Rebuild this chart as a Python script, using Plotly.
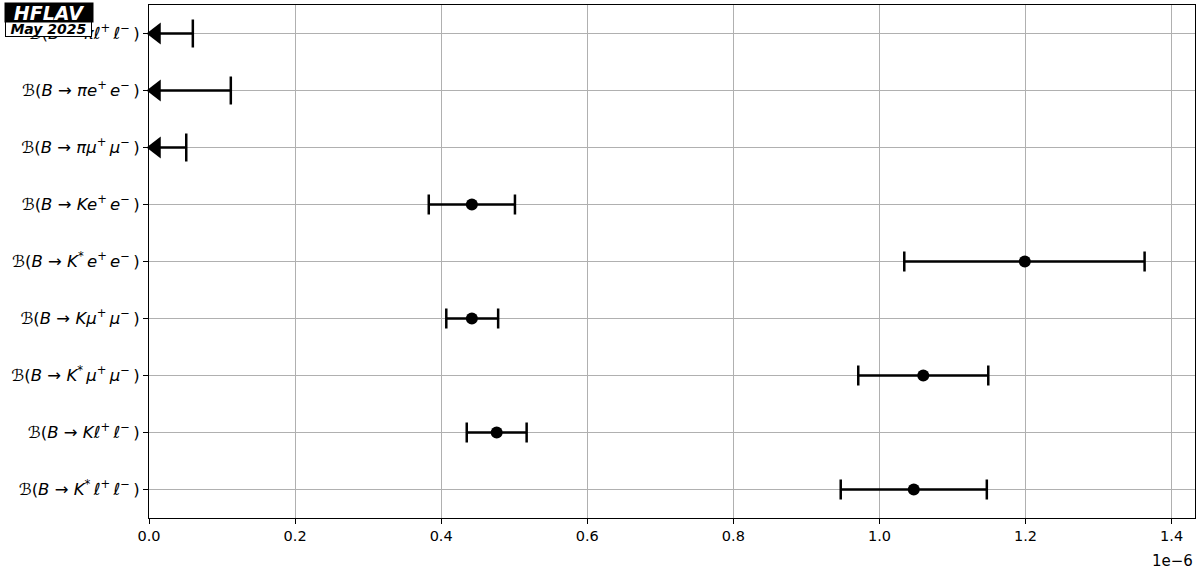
import plotly.graph_objects as go

TS = "\u2009"  # thin space after superscripts (mathtext-like spacing)

# Rows listed bottom (index 0) to top (index 8)
labels = [
    "<i>ℬ</i>(<i>B</i> → <i>K</i><sup>*</sup>" + TS + "<i>ℓ</i><sup>+</sup>" + TS + "<i>ℓ</i><sup>−</sup>" + TS + ")",
    "<i>ℬ</i>(<i>B</i> → <i>Kℓ</i><sup>+</sup>" + TS + "<i>ℓ</i><sup>−</sup>" + TS + ")",
    "<i>ℬ</i>(<i>B</i> → <i>K</i><sup>*</sup>" + TS + "<i>μ</i><sup>+</sup>" + TS + "<i>μ</i><sup>−</sup>" + TS + ")",
    "<i>ℬ</i>(<i>B</i> → <i>Kμ</i><sup>+</sup>" + TS + "<i>μ</i><sup>−</sup>" + TS + ")",
    "<i>ℬ</i>(<i>B</i> → <i>K</i><sup>*</sup>" + TS + "<i>e</i><sup>+</sup>" + TS + "<i>e</i><sup>−</sup>" + TS + ")",
    "<i>ℬ</i>(<i>B</i> → <i>Ke</i><sup>+</sup>" + TS + "<i>e</i><sup>−</sup>" + TS + ")",
    "<i>ℬ</i>(<i>B</i> → <i>πμ</i><sup>+</sup>" + TS + "<i>μ</i><sup>−</sup>" + TS + ")",
    "<i>ℬ</i>(<i>B</i> → <i>πe</i><sup>+</sup>" + TS + "<i>e</i><sup>−</sup>" + TS + ")",
    "<i>ℬ</i>(<i>B</i> → <i>πℓ</i><sup>+</sup>" + TS + "<i>ℓ</i><sup>−</sup>" + TS + ")",
]

# Measurements (rows 0..5)
meas_rows = [0, 1, 2, 3, 4, 5]
meas_val = [1.047e-6, 0.476e-6, 1.060e-6, 0.442e-6, 1.199e-6, 0.442e-6]
meas_lo = [0.947e-6, 0.435e-6, 0.971e-6, 0.407e-6, 1.034e-6, 0.383e-6]
meas_hi = [1.147e-6, 0.517e-6, 1.149e-6, 0.478e-6, 1.363e-6, 0.501e-6]

# Upper limits (rows 6..8)
lim_rows = [6, 7, 8]
lim_val = [0.051e-6, 0.112e-6, 0.060e-6]
arrow_pos = [0.0096e-6, 0.0096e-6, 0.0096e-6]

fig = go.Figure()

fig.add_trace(go.Scatter(
    x=meas_val, y=meas_rows, mode="markers",
    marker=dict(symbol="circle", size=12, color="black"),
    error_x=dict(type="data", symmetric=False,
                 array=[h - v for h, v in zip(meas_hi, meas_val)],
                 arrayminus=[v - l for l, v in zip(meas_lo, meas_val)],
                 color="black", thickness=2.5, width=10),
    showlegend=False, cliponaxis=False,
))

# limit lines from the arrow to the limit value
lx, ly = [], []
for a, u, r in zip(arrow_pos, lim_val, lim_rows):
    lx += [a, u, None]
    ly += [r, r, None]
fig.add_trace(go.Scatter(
    x=lx, y=ly, mode="lines", line=dict(color="black", width=2.5),
    showlegend=False, cliponaxis=False, hoverinfo="skip",
))

# caps at the limit values
fig.add_trace(go.Scatter(
    x=lim_val, y=lim_rows, mode="markers",
    marker=dict(symbol="line-ns", size=20, color="black",
                line=dict(width=2.5, color="black")),
    showlegend=False, cliponaxis=False,
))

# arrow heads
fig.add_trace(go.Scatter(
    x=arrow_pos, y=lim_rows, mode="markers",
    marker=dict(symbol="triangle-left", size=19, color="black",
                line=dict(width=0)),
    showlegend=False, cliponaxis=False,
))

L, R, T, B = 149, 5, 5, 58
W, H = 1200, 576
pw, ph = W - L - R, H - T - B

def px_x(p):
    return (p - L) / pw

def px_y(p):
    return (H - B - p) / ph

fig.update_layout(
    width=W, height=H,
    margin=dict(l=L, r=R, t=T, b=B, autoexpand=False),
    paper_bgcolor="white", plot_bgcolor="white",
    font=dict(family="DejaVu Sans", color="black", size=14),
    xaxis=dict(
        range=[0, 1.432e-6], automargin=False,
        tickvals=[0, 0.2e-6, 0.4e-6, 0.6e-6, 0.8e-6, 1.0e-6, 1.2e-6, 1.4e-6],
        ticktext=["0.0", "0.2", "0.4", "0.6", "0.8", "1.0", "1.2", "1.4"],
        showgrid=True, gridcolor="#b0b0b0", gridwidth=1,
        showline=True, linecolor="black", linewidth=1, mirror=True,
        ticks="outside", ticklen=5, tickcolor="black",
        zeroline=False, tickfont=dict(size=14.5),
    ),
    yaxis=dict(
        range=[-0.5, 8.5], automargin=False,
        tickvals=list(range(len(labels))), ticktext=labels,
        showgrid=True, gridcolor="#b0b0b0", gridwidth=1,
        showline=True, linecolor="black", linewidth=1, mirror=True,
        ticks="outside", ticklen=5, tickcolor="black",
        zeroline=False, tickfont=dict(size=16.5),
    ),
    annotations=[
        dict(text="1e−6", xref="paper", yref="paper", x=1.0, y=px_y(561),
             xanchor="right", yanchor="middle", showarrow=False,
             font=dict(size=15)),
        dict(text="<b><i>May 2025</i></b>", xref="paper", yref="paper",
             x=px_x(5), y=px_y(21), xanchor="left", yanchor="top",
             width=85, height=14, bgcolor="white", bordercolor="black",
             borderwidth=1, borderpad=0, showarrow=False,
             font=dict(size=14, color="black")),
        dict(text="<b><i>HFLAV</i></b>", xref="paper", yref="paper",
             x=px_x(4), y=px_y(2), xanchor="left", yanchor="top",
             width=88, height=19, bgcolor="black", borderpad=0,
             showarrow=False, font=dict(size=19, color="white")),
    ],
)

fig.write_html("out.html",
               config={"displayModeBar": False},
               post_script="document.body.style.margin='0';"
                           "document.body.style.overflow='hidden';")
